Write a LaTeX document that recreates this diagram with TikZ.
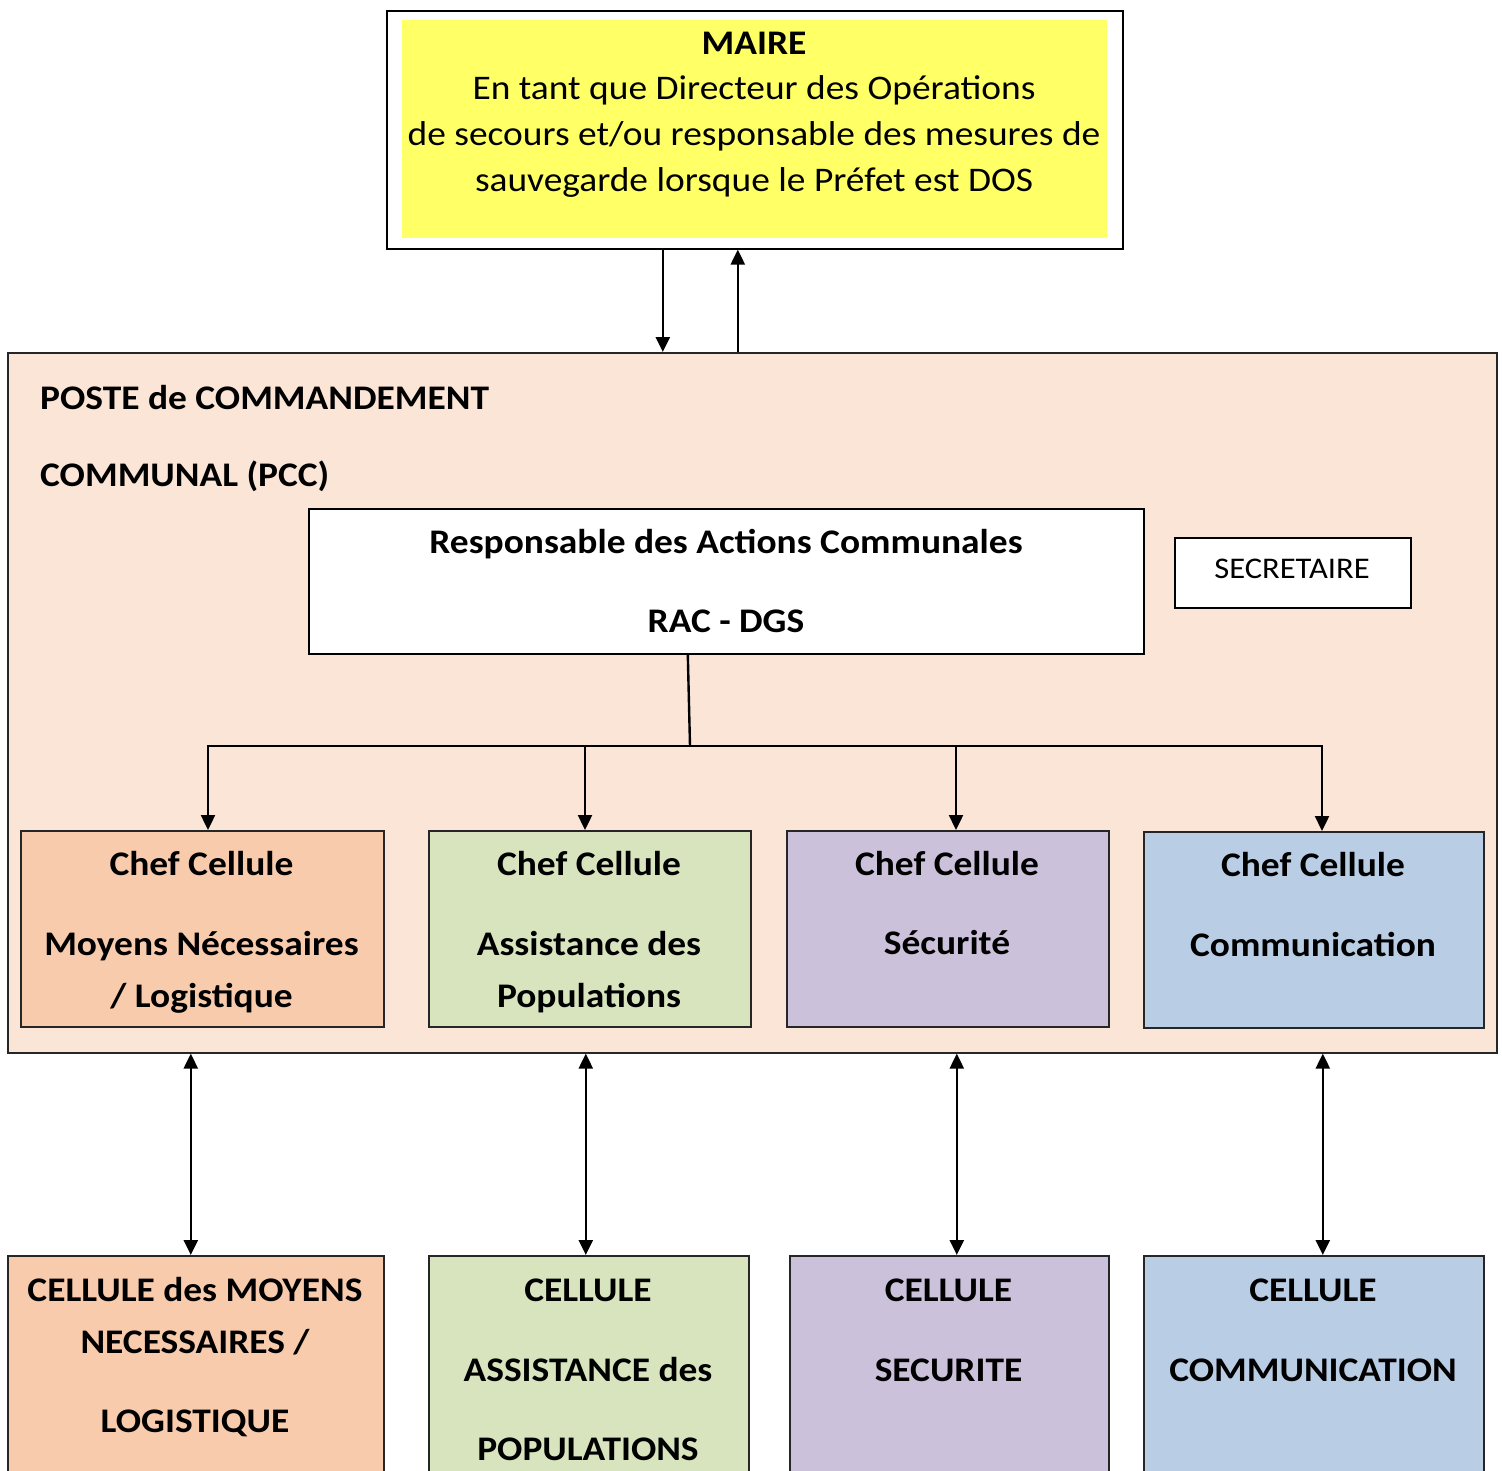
\documentclass[tikz,border=0pt]{standalone}
\usepackage{fontspec}
\setmainfont{Carlito}[FakeStretch=1.085]
\usetikzlibrary{arrows.meta}
\definecolor{yel}{HTML}{FFFF66}
\definecolor{pccbg}{HTML}{FBE5D6}
\definecolor{org}{HTML}{F8CBAD}
\definecolor{grn}{HTML}{D7E4BD}
\definecolor{pur}{HTML}{CCC1DA}
\definecolor{blu}{HTML}{B9CDE5}
\begin{document}
\begin{tikzpicture}[x=1pt,y=-1pt,
  box/.style={draw=black!85,line width=1.6pt,rectangle,inner sep=0pt,anchor=north west},
  txt/.style={anchor=base,inner sep=0pt,font=\fontsize{34.5}{40}\selectfont},
  btxt/.style={txt,font=\fontsize{34.5}{40}\selectfont\bfseries},
  ln/.style={line width=2.4pt,black},
  arr/.style={ln,-{Triangle[width=14pt,length=15pt]}},
  darr/.style={ln,{Triangle[width=14pt,length=15pt]}-{Triangle[width=14pt,length=15pt]}}]
\useasboundingbox (0,0) rectangle (1502,1471);
\clip (0,0) rectangle (1502,1471);
\fill[white] (0,0) rectangle (1502,1471);

% Maire
\node[box,draw=black,fill=white,minimum width=736,minimum height=238] (maire) at (386,10) {};
\node[anchor=north west,inner sep=0pt,fill=yel,minimum width=705,minimum height=218] (maireIn) at (402,20) {};
\node[btxt] (m0) at (754,55) {MAIRE};
\node[txt] (m1) at (754,100) {En tant que Directeur des Opérations};
\node[txt] (m2) at (754,146) {de secours et/ou responsable des mesures de};
\node[txt] (m3) at (754,192) {sauvegarde lorsque le Préfet est DOS};

% PCC
\node[box,fill=pccbg,minimum width=1489,minimum height=700] (pcc) at (7,352) {};
\node[btxt,anchor=base west] (p1) at (40,409) {POSTE de COMMANDEMENT};
\node[btxt,anchor=base west] (p2) at (40,486) {COMMUNAL (PCC)};

% arrows Maire <-> PCC
\coordinate (ma) at ([xshift=-92pt]maire.south);
\coordinate (mb) at ([xshift=-17pt]maire.south);
\draw[arr] (ma) -- (ma |- pcc.north);
\draw[arr] (mb |- pcc.north) -- (mb);

% RAC
\node[box,draw=black,fill=white,minimum width=835,minimum height=145] (rac) at (308,508) {};
\node[btxt] (r1) at (726,553) {Responsable des Actions Communales};
\node[btxt] (r2) at (726,632) {RAC - DGS};

% Secretaire
\node[box,draw=black,fill=white,minimum width=236,minimum height=70] (sec) at (1174,537) {};
\node[txt,font=\fontsize{30}{34}\selectfont] (s1) at (1292,578) {SECRETAIRE};

% Chef boxes
\node[box,fill=org,minimum width=363,minimum height=196] (c1) at (20,830) {};
\node[box,fill=grn,minimum width=322,minimum height=196] (c2) at (428,830) {};
\node[box,fill=pur,minimum width=322,minimum height=196] (c3) at (786,830) {};
\node[box,fill=blu,minimum width=340,minimum height=196] (c4) at (1143,831) {};

\node[btxt] (c1a) at (201.5,875) {Chef Cellule};
\node[btxt] (c1b) at (201.5,955) {Moyens Nécessaires};
\node[btxt] (c1c) at (201.5,1007) {/ Logistique};
\node[btxt] (c2a) at (589,875) {Chef Cellule};
\node[btxt] (c2b) at (589,955) {Assistance des};
\node[btxt] (c2c) at (589,1007) {Populations};
\node[btxt] (c3a) at (947,875) {Chef Cellule};
\node[btxt] (c3b) at (947,954) {Sécurité};
\node[btxt] (c4a) at (1313,876) {Chef Cellule};
\node[btxt] (c4b) at (1313,956) {Communication};

% bus
\coordinate (b1) at (208,746);
\coordinate (b2) at (585,746);
\coordinate (b3) at (956,746);
\coordinate (b4) at (1322,746);
\coordinate (bj) at (690,746);
\draw[ln] ([xshift=-38.5pt]rac.south) -- (bj);
\draw[ln,line cap=rect] (b1) -- (b4);
\draw[arr] (b1) -- (b1 |- c1.north);
\draw[arr] (b2) -- (b2 |- c2.north);
\draw[arr] (b3) -- (b3 |- c3.north);
\draw[arr] (b4) -- (b4 |- c4.north);

% bottom cells
\node[box,fill=org,minimum width=376,minimum height=260] (e1) at (7,1255) {};
\node[box,fill=grn,minimum width=320,minimum height=260] (e2) at (428,1255) {};
\node[box,fill=pur,minimum width=319,minimum height=260] (e3) at (789,1255) {};
\node[box,fill=blu,minimum width=340,minimum height=260] (e4) at (1143,1255) {};

\node[btxt] (e1a) at (195,1301) {CELLULE des MOYENS};
\node[btxt] (e1b) at (195,1353) {NECESSAIRES /};
\node[btxt] (e1c) at (195,1432) {LOGISTIQUE};
\node[btxt] (e2a) at (588,1301) {CELLULE};
\node[btxt] (e2b) at (588,1381) {ASSISTANCE des};
\node[btxt] (e2c) at (588,1460) {POPULATIONS};
\node[btxt] (e3a) at (948.5,1301) {CELLULE};
\node[btxt] (e3b) at (948.5,1381) {SECURITE};
\node[btxt] (e4a) at (1313,1301) {CELLULE};
\node[btxt] (e4b) at (1313,1381) {COMMUNICATION};

% double arrows
\coordinate (d1) at ([xshift=-5pt]e1.north);
\coordinate (d2) at ([xshift=-3pt]e2.north);
\coordinate (d3) at ([xshift=7.5pt]e3.north);
\coordinate (d4) at ([xshift=9pt]e4.north);
\draw[darr] (d1 |- pcc.south) -- (d1);
\draw[darr] (d2 |- pcc.south) -- (d2);
\draw[darr] (d3 |- pcc.south) -- (d3);
\draw[darr] (d4 |- pcc.south) -- (d4);
\end{tikzpicture}
\end{document}
